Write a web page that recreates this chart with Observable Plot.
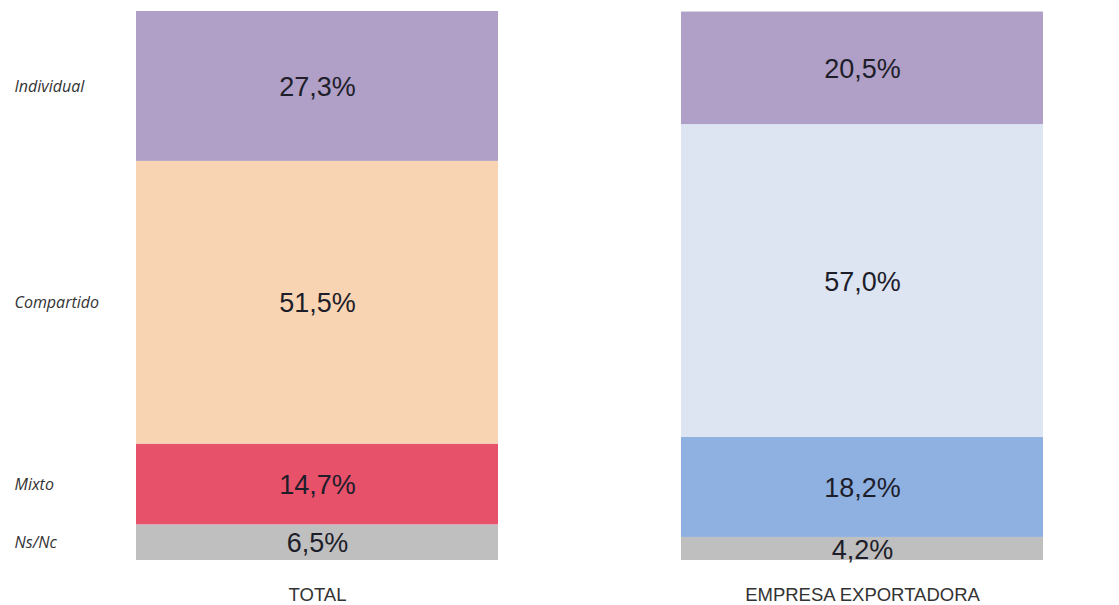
<!DOCTYPE html>
<html>
<head>
<meta charset="utf-8">
<script src="https://cdn.jsdelivr.net/npm/d3@7"></script>
<script src="https://cdn.jsdelivr.net/npm/@observablehq/plot@0.6"></script>
<style>
  html, body { margin: 0; padding: 0; background: #fff; }
  #chart { width: 1119px; height: 605px; }
</style>
</head>
<body>
<div id="chart"></div>
<script>
// Data (bottom to top within each bar)
const groups = ["TOTAL", "EMPRESA EXPORTADORA"];
const categories = ["Ns/Nc", "Mixto", "Compartido", "Individual"];
const totalValues = [6.5, 14.7, 51.5, 27.3];
const exportValues = [4.2, 18.2, 57.0, 20.5];
const totalColors = ["#bfbfbf", "#e8516a", "#f9d4b2", "#b09fc6"];
const exportColors = ["#bfbfbf", "#8eb1e1", "#dde4f2", "#b09fc6"];

const rows = [];
categories.forEach((c, i) => rows.push({group: groups[0], category: c, value: totalValues[i], color: totalColors[i]}));
categories.forEach((c, i) => rows.push({group: groups[1], category: c, value: exportValues[i], color: exportColors[i]}));

const fmt = v => v.toFixed(1).replace(".", ",") + "%";
const totalRows = rows.filter(d => d.group === groups[0]);

const chart = Plot.plot({
  width: 1119,
  height: 605,
  marginTop: 11,
  marginBottom: 45,
  marginLeft: 136,
  marginRight: 76,
  style: {fontFamily: "'Liberation Sans', Arial, sans-serif", background: "#fff"},
  x: {domain: groups, paddingInner: 0.336, paddingOuter: 0, label: null},
  y: {domain: [0, 100], axis: null},
  marks: [
    Plot.barY(rows, {x: "group", y: "value", fill: "color", order: null, inset: 0}),
    Plot.text(rows, Plot.stackY({
      x: "group", y: "value", order: null,
      text: d => fmt(d.value),
      fontSize: 27, fill: "#1e1e2a", dy: 1
    })),
    Plot.text(totalRows, Plot.stackY({
      y: "value", order: null,
      text: "category",
      frameAnchor: "left", textAnchor: "start", dx: -122,
      fontSize: 16, fontStyle: "italic", fill: "#333",
      fontFamily: "'Open Sans', sans-serif"
    })),
    Plot.axisX({tickSize: 0, tickPadding: 27, fontSize: 18.5, color: "#333", label: null})
  ]
});
document.getElementById("chart").appendChild(chart);
</script>
</body>
</html>
